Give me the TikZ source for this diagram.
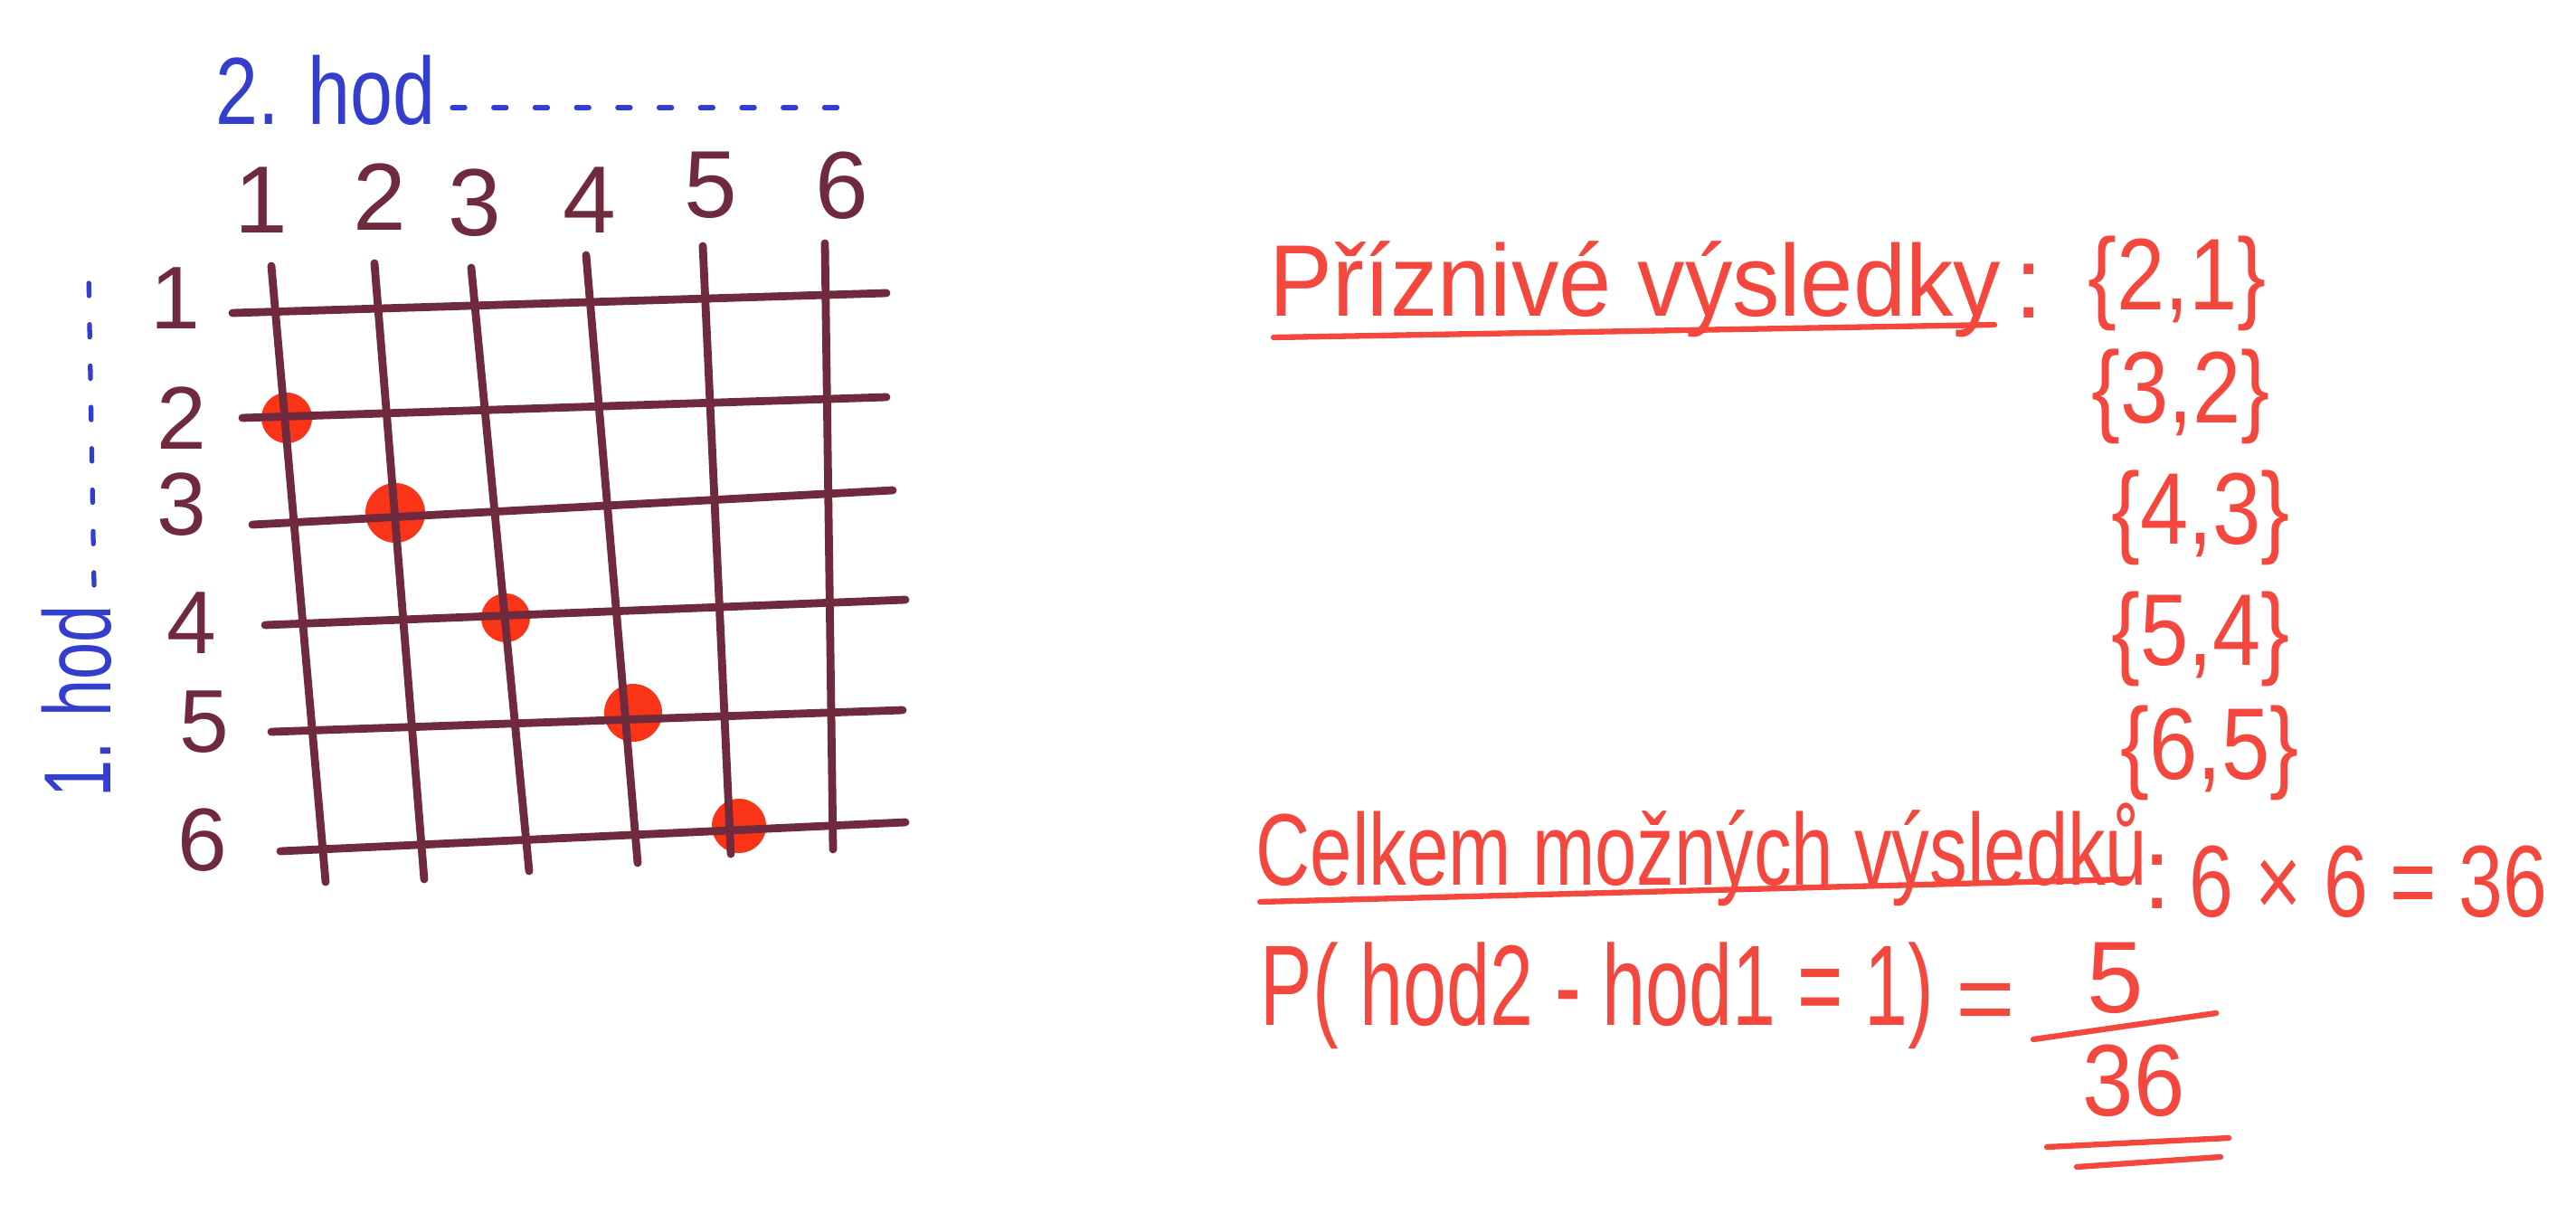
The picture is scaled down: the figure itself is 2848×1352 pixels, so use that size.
\documentclass[tikz,border=0pt]{standalone}
\usepackage{fontspec}
\setmainfont{Liberation Sans}
\usepackage{graphicx}
\definecolor{gridink}{RGB}{112,42,62}
\definecolor{blueink}{RGB}{52,62,205}
\definecolor{redink}{RGB}{244,72,62}
\definecolor{dotred}{RGB}{250,52,22}
\newcommand\hw[2][1]{\scalebox{#1}[1]{#2}}
\tikzset{
  gridline/.style={draw=gridink,line width=2.5pt,line cap=round},
  gridnum/.style={text=gridink,inner sep=0pt,font=\fontsize{30}{36}\selectfont},
  rownum/.style={text=gridink,inner sep=0pt,font=\fontsize{28}{34}\selectfont},
  bluetext/.style={text=blueink,inner sep=0pt,font=\fontsize{30}{36}\selectfont},
  bluedash/.style={draw=blueink,line width=1.5pt,line cap=round,dash pattern=on 4pt off 9pt},
  redtext/.style={text=redink,inner sep=0pt,font=\fontsize{32}{38}\selectfont},
  redline/.style={draw=redink,line width=1.8pt,line cap=round},
  hit/.style={fill=dotred},
}
\begin{document}
\begin{tikzpicture}[x=0.01cm,y=-0.01cm]
\useasboundingbox (0,0) rectangle (2848,1352);
% axis captions
\node[bluetext] (h2) at (360,100) {\hw[0.8]{2. hod}};
\coordinate (h2a) at (500,119);
\coordinate (h2b) at (927,119);
\draw[bluedash] (h2a) -- (h2b);
\node[bluetext,rotate=90] (h1) at (85,775) {\hw[0.7]{1. hod}};
\coordinate (h1a) at (104,647);
\coordinate (h1b) at (98,301);
\draw[bluedash] (h1a) -- (h1b);
% column numbers
\node[gridnum] (c1) at (289,221) {1};
\node[gridnum] (c2) at (420,218) {2};
\node[gridnum] (c3) at (525,224) {3};
\node[gridnum] (c4) at (652,221) {4};
\node[gridnum] (c5) at (786,205) {5};
\node[gridnum] (c6) at (931,205) {6};
% row numbers
\node[rownum] (r1) at (194,330) {1};
\node[rownum] (r2) at (201,462) {2};
\node[rownum] (r3) at (201,558) {3};
\node[rownum] (r4) at (212,689) {4};
\node[rownum] (r5) at (226,798) {5};
\node[rownum] (r6) at (224,929) {6};
% favourable outcomes
\fill[hit] (317,462) circle (28);
\fill[hit] (437,567) circle (33);
\fill[hit] (559,683) circle (27);
\fill[hit] (700,788) circle (32);
\fill[hit] (817,913) circle (30);
% grid
\draw[gridline] (300,294) -- (360,975);
\draw[gridline] (414,291) -- (469,972);
\draw[gridline] (521,296) -- (585,963);
\draw[gridline] (648,282) -- (705,954);
\draw[gridline] (777,272) -- (808,944);
\draw[gridline] (912,269) -- (921,939);
\draw[gridline] (257,346) -- (980,324);
\draw[gridline] (268,462) -- (980,439);
\draw[gridline] (279,580) -- (987,542);
\draw[gridline] (293,691) -- (1001,663);
\draw[gridline] (300,809) -- (998,785);
\draw[gridline] (310,941) -- (1001,909);
% right side
\node[redtext,anchor=west] (fav) at (1403,320) {\hw[0.93]{Příznivé výsledky}};
\coordinate (ulfa) at (1408,373);
\coordinate (ulfb) at (2205,359);
\draw[redline] (ulfa) -- (ulfb);
\node[redtext] (colon1) at (2243,322) {:};
\node[redtext] (s1) at (2407,313) {\hw[0.85]{\{2,1\}}};
\node[redtext] (s2) at (2411,438) {\hw[0.85]{\{3,2\}}};
\node[redtext] (s3) at (2433,572) {\hw[0.85]{\{4,3\}}};
\node[redtext] (s4) at (2433,706) {\hw[0.85]{\{5,4\}}};
\node[redtext] (s5) at (2443,832) {\hw[0.85]{\{6,5\}}};
\node[redtext,anchor=west] (tot) at (1388,945) {\hw[0.74]{Celkem možných výsledků}};
\coordinate (ulta) at (1393,997);
\coordinate (ultb) at (2354,972);
\draw[redline] (ulta) -- (ultb);
\node[redtext] (colon2) at (2385,975) {:};
\node[redtext,anchor=west] (prod) at (2420,975) {\hw[0.78]{6 × 6 = 36}};
\node[redtext,anchor=west,font=\fontsize{36}{42}\selectfont] (prob) at (1393,1101) {\hw[0.68]{P( hod2 - hod1 = 1)}};
\node[redtext] (eq) at (2195,1115) {=};
\node[redtext] (num) at (2339,1081) {5};
\coordinate (bara) at (2248,1149);
\coordinate (barb) at (2450,1120);
\draw[redline] (bara) -- (barb);
\node[redtext] (den) at (2359,1195) {\hw[0.9]{36}};
\coordinate (dua) at (2263,1268);
\coordinate (dub) at (2464,1258);
\coordinate (duc) at (2296,1290);
\coordinate (dud) at (2455,1279);
\draw[redline] (dua) -- (dub);
\draw[redline] (duc) -- (dud);
\end{tikzpicture}
\end{document}
